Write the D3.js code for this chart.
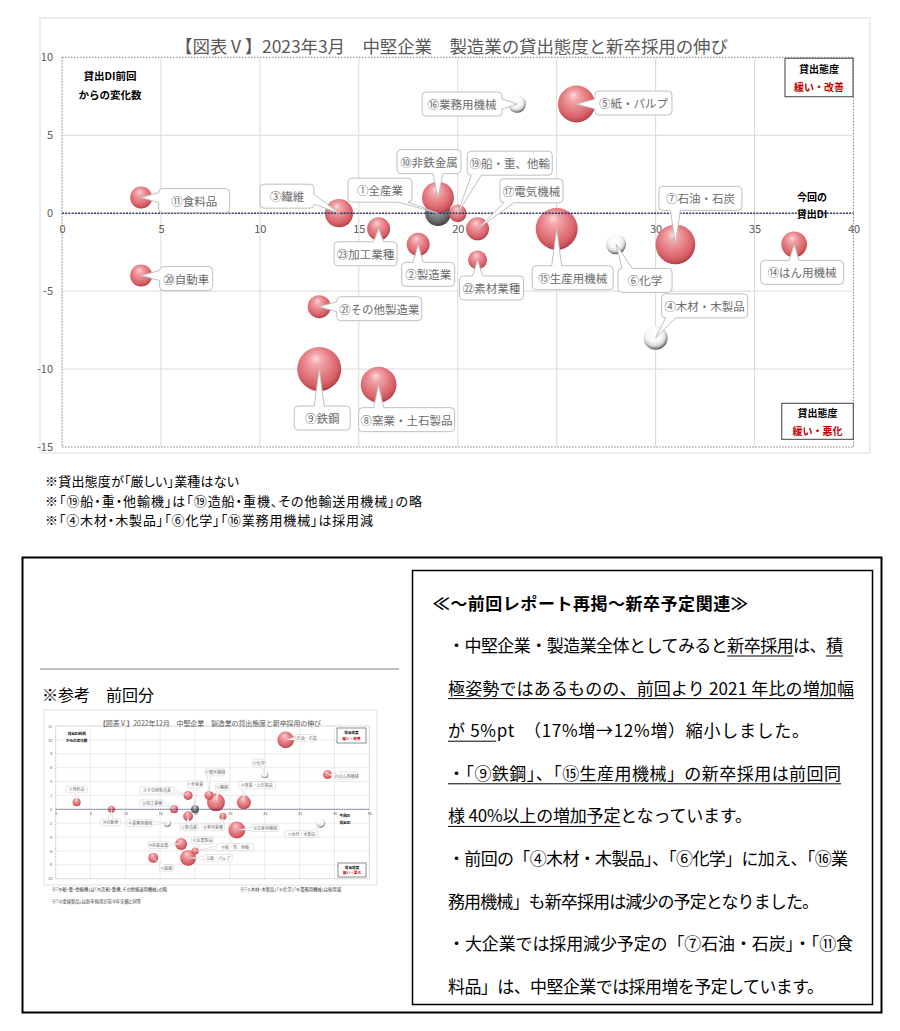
<!DOCTYPE html>
<html><head><meta charset="utf-8">
<script src="https://cdn.jsdelivr.net/npm/d3@7"></script>
<style>
body{margin:0;background:#fff}
svg text{font-family:"Noto Sans CJK JP","Noto Sans",sans-serif}
.palt{font-feature-settings:"palt" 1}
</style>
</head><body>
<svg id="c" width="900" height="1031"></svg>
<script>
// ===== DATA: current chart (2023年3月) =====
const title = "【図表Ⅴ】2023年3月　中堅企業　製造業の貸出態度と新卒採用の伸び";
const categories = ["①全産業","②製造業","③繊維","④木材・木製品","⑤紙・パルプ","⑥化学","⑦石油・石炭","⑧窯業・土石製品","⑨鉄鋼","⑩非鉄金属","⑪食料品","⑭はん用機械","⑮生産用機械","⑯業務用機械","⑰電気機械","⑲船・重、他輸","⑳自動車","㉑その他製造業","㉒素材業種","㉓加工業種"];
const lendingDI    = [19, 18, 14, 30, 26, 28, 31, 16, 13, 19, 4, 37, 25, 23, 21, 20, 4, 13, 21, 16];
const diChange     = [0, -2, 0, -8, 7, -2, -2, -11, -10, 1, 1, -2, -1, 7, -1, 0, -4, -6, -3, -1];
const hiringGrowth = [15, 12, 18, -13, 31, -9, 36, 29, 44, 23, 11, 15, 40, -7, 12, 7, 11, 12, 8, 12];
const xTicks = [0, 5, 10, 15, 20, 25, 30, 35, 40];
const yTicks = [10, 5, 0, -5, -10, -15];
const yNote = ["貸出DI前回", "からの変化数"];
const xNote = ["今回の", "貸出DI"];
const cornerTop = ["貸出態度", "緩い・改善"];
const cornerBottom = ["貸出態度", "緩い・悪化"];
const noteLines = ["※貸出態度が「厳しい」業種はない", "※「⑲船・重・他輸機」は「⑲造船・重機、その他輸送用機械」の略", "※「④木材・木製品」「⑥化学」「⑯業務用機械」は採用減"];

// ===== DATA: previous chart (2022年12月) =====
const prevTitle = "【図表Ⅴ】2022年12月　中堅企業　製造業の貸出態度と新卒採用の伸び";
const prevCategories = ["①全産業","②製造業","③繊維","④木材・木製品","⑤紙・パルプ","⑥化学","⑦石油・石炭","⑧窯業・土石製品","⑨鉄鋼","⑩非鉄金属","⑪食料品","⑫金属製品","⑭はん用機械","⑮生産用機械","⑯業務用機械","⑰電気機械","⑲船・重、他輸","⑳自動車","㉑その他製造業","㉒素材業種","㉓加工業種"];
const prevLendingDI    = [20, 19, 23, 38, 19, 30, 33, 27, 14, 18, 3, 20.5, 39, 26, 16, 22, 20, 8, 19, 24, 17];
const prevDiChange     = [0, -1, 1, -2, -7, 5, 10, 1, -7, -5, 1, -5.5, 5, -3, -2, 2, -6, 0, 2, -1, 0];
const prevHiringGrowth = [11, 17, 56, -14, 44, -8.5, 48, 34, 17, 25, 11, 0, 14, 50, -8.5, 14, 8.5, 8.5, 14, 8.5, 11];
const prevXTicks = [0, 5, 10, 15, 20, 25, 30, 35, 40, 45];
const prevYTicks = [12, 10, 8, 6, 4, 2, 0, -2, -4, -6, -8, -10];
const prevNotes = ["※「⑲船・重・他輸機」は「⑲造船・重機、その他輸送用機械」の略", "※「④木材・木製品」「⑥化学」「⑯業務用機械」は採用減", "※「⑫金属製品」は新卒採用が前々年実績と同等"];

// ===== TEXT =====
const refHeading = "※参考　前回分";
const boxTitle = "≪～前回レポート再掲～新卒予定関連≫";
const boxLines = [
  [["・中堅企業・製造業全体としてみると", 0], ["新卒採用", 1], ["は、", 0], ["積", 1]],
  [["極姿勢ではあるものの、前回より 2021 年比の増加幅", 1]],
  [["が 5%", 1], ["pt　（17%増→12%増）縮小しました。", 0]],
  [["・「⑨鉄鋼」、「⑮生産用機械」の新卒採用は前回同", 1]],
  [["様 40%以上の増加予定", 1], ["となっています。", 0]],
  [["・前回の「④木材・木製品」、「⑥化学」に加え、「⑯業", 0]],
  [["務用機械」も新卒採用は減少の予定となりました。", 0]],
  [["・大企業では採用減少予定の「⑦石油・石炭」・「⑪食", 0]],
  [["料品」は、中堅企業では採用増を予定しています。", 0]]
];

// ===== LAYOUT (label offsets in px from bubble centre: dx, dy, box width) =====
const mainLabels = [[-58,-23,64],[10,30,53],[-52,-17,54],[49,-32,86],[57,-1,77],[29,36,54],[25,-46,83],[28,35,96],[3,49,56],[-9,-36,64],[53,3,71],[8,28,83],[16,49,81],[-55,0,80],[54,-38,63],[52,-50,85],[45,3,53],[60,2,85],[14,28,64],[-13,25,63]];
const prevLabels = [[0,-25,15],[1,11,18],[6,-15,13],[-19,11,33],[30,0,28],[-6,-12,13],[19,-2,21],[13,-17,37],[13,10,14],[-23,1,20],[0,-13,21],[4,-7,22],[19,1,23],[28,-2,27],[-27,0,27],[6,-23,19],[40,-4,37],[-1,13,20],[-31,-5,34],[-10,11,23],[-22,-6,24]];

const svg = d3.select("#c");
const defs = svg.append("defs");
function radial(id, stops) {
  const gr = defs.append("radialGradient").attr("id", id)
    .attr("cx", "46%").attr("cy", "42%").attr("r", "60%").attr("fx", "42%").attr("fy", "24%");
  stops.forEach(([o, c]) => gr.append("stop").attr("offset", o).attr("stop-color", c));
}
radial("gRed", [["0%", "#fcdcde"], ["20%", "#f4a9ad"], ["50%", "#e7838a"], ["78%", "#d9636a"], ["92%", "#c24c54"], ["100%", "#9c3038"]]);
radial("gWhite", [["0%", "#ffffff"], ["55%", "#f7f7f7"], ["76%", "#dadada"], ["89%", "#909090"], ["100%", "#3a3a3a"]]);
radial("gGray", [["0%", "#cbcbcb"], ["40%", "#929292"], ["78%", "#646464"], ["100%", "#3b3b3b"]]);

const clamp = (v, a, b) => Math.max(a, Math.min(b, v));

function callout(g, tx, ty, bx, by, w, h, text, L) {
  const c = g.append("g");
  const x0 = bx - w / 2, y0 = by - h / 2, rx = L.labelRx, bw = L.wedge, e = L.labelSw;
  c.append("rect").attr("x", x0).attr("y", y0).attr("width", w).attr("height", h).attr("rx", rx)
    .attr("fill", "#fff").attr("stroke", L.labelStroke).attr("stroke-width", L.labelSw);
  const vx = tx - bx, vy = ty - by;
  if (Math.abs(vx) > w / 2 || Math.abs(vy) > h / 2) {
    let p1, p2, q1, q2;
    if (Math.abs(vx) / (w / 2) > Math.abs(vy) / (h / 2)) {
      const s = vx > 0 ? 1 : -1, sx = vx > 0 ? x0 + w : x0;
      const cy = clamp(ty, y0 + rx + bw / 2, y0 + h - rx - bw / 2);
      p1 = [sx, cy - bw / 2]; p2 = [sx, cy + bw / 2]; q1 = [sx - s * e, cy - bw / 2]; q2 = [sx - s * e, cy + bw / 2];
    } else {
      const s = vy > 0 ? 1 : -1, sy = vy > 0 ? y0 + h : y0;
      const cx = clamp(tx, x0 + rx + bw / 2, x0 + w - rx - bw / 2);
      p1 = [cx - bw / 2, sy]; p2 = [cx + bw / 2, sy]; q1 = [cx - bw / 2, sy - s * e]; q2 = [cx + bw / 2, sy - s * e];
    }
    c.append("path").attr("d", `M${q1}L${q2}L${p2}L${tx},${ty}L${p1}Z`).attr("fill", "#fff");
    c.append("path").attr("d", `M${p1}L${tx},${ty}L${p2}`).attr("fill", "none")
      .attr("stroke", L.labelStroke).attr("stroke-width", L.labelSw);
  }
  c.append("text").attr("x", bx).attr("y", by).attr("text-anchor", "middle").attr("dominant-baseline", "central")
    .attr("font-size", L.labelFs).attr("fill", "#6b6b6b").text(text);
}

function cornerBox(g, cx, cy, w, h, lines, L) {
  g.append("rect").attr("x", cx - w / 2).attr("y", cy - h / 2).attr("width", w).attr("height", h)
    .attr("fill", "#fff").attr("stroke", "#404040").attr("stroke-width", L.cornerSw);
  lines.forEach((t, i) => g.append("text").attr("x", cx).attr("y", cy + (i - 0.5) * L.noteGap)
    .attr("text-anchor", "middle").attr("dominant-baseline", "central").attr("font-size", L.noteFs)
    .attr("font-weight", "bold").attr("fill", i === 1 ? "#c00000" : "#000").text(t));
}

function drawChart(root, d, L) {
  const g = root.append("g");
  g.append("rect").attr("x", L.frame[0]).attr("y", L.frame[1]).attr("width", L.frame[2]).attr("height", L.frame[3])
    .attr("fill", "#fff").attr("stroke", "#d9d9d9").attr("stroke-width", L.frameSw);
  const x = d3.scaleLinear().domain(L.xDomain).range([L.left, L.right]);
  const y = d3.scaleLinear().domain(L.yDomain).range([L.bottom, L.top]);
  const r = d3.scaleSqrt().domain([0, L.rRef[0]]).range([0, L.rRef[1]]);

  g.append("text").attr("x", L.titleX).attr("y", L.titleY).attr("text-anchor", "middle").attr("dominant-baseline", "central")
    .attr("font-size", L.titleFs).attr("fill", "#595959").attr("textLength", L.titleW).attr("lengthAdjust", "spacing").text(d.title);

  g.append("g").selectAll("line").data(d.xTicks.filter(t => t > L.xDomain[0] && t < L.xDomain[1])).join("line")
    .attr("x1", t => x(t)).attr("x2", t => x(t)).attr("y1", L.top).attr("y2", L.bottom)
    .attr("stroke", "#d9d9d9").attr("stroke-width", L.gridSw);
  g.append("g").selectAll("line").data(d.yTicks.filter(t => t > L.yDomain[0] && t < L.yDomain[1] && t !== 0)).join("line")
    .attr("y1", t => y(t)).attr("y2", t => y(t)).attr("x1", L.left).attr("x2", L.right)
    .attr("stroke", "#d9d9d9").attr("stroke-width", L.gridSw);
  g.append("rect").attr("x", L.left).attr("y", L.top).attr("width", L.right - L.left).attr("height", L.bottom - L.top)
    .attr("fill", "none").attr("stroke", "#808080").attr("stroke-width", L.borderSw).attr("stroke-dasharray", L.borderDash);

  const ax = g.append("g").attr("transform", `translate(0,${y(0)})`)
    .call(d3.axisBottom(x).tickValues(d.xTicks).tickSize(0).tickPadding(L.xPad).tickFormat(v => String(v)));
  ax.select(".domain").remove();
  ax.attr("font-family", null).attr("font-size", null);
  ax.selectAll("text").attr("fill", "#595959").attr("font-size", L.tickFs);
  const ay = g.append("g").attr("transform", `translate(${L.left},0)`)
    .call(d3.axisLeft(y).tickValues(d.yTicks).tickSize(0).tickPadding(L.yPad).tickFormat(v => String(v)));
  ay.select(".domain").remove();
  ay.attr("font-family", null).attr("font-size", null);
  ay.selectAll("text").attr("fill", "#595959").attr("font-size", L.tickFs);

  const idx = d.cats.map((c, i) => i);
  g.append("g").selectAll("circle").data(idx).join("circle")
    .attr("cx", i => x(d.xs[i])).attr("cy", i => y(d.ys[i])).attr("r", i => r(Math.abs(d.sizes[i])))
    .attr("fill", i => d.cats[i].startsWith("①") ? "url(#gGray)" : d.sizes[i] < 0 ? "url(#gWhite)" : "url(#gRed)");

  g.append("line").attr("x1", L.left).attr("x2", L.right).attr("y1", y(0)).attr("y2", y(0))
    .attr("stroke", "#2a3760").attr("stroke-width", L.zeroSw).attr("stroke-dasharray", L.zeroDash);

  idx.forEach(i => {
    const lb = d.labels[i], px = x(d.xs[i]), py = y(d.ys[i]);
    callout(g, px, py, px + lb[0], py + lb[1], lb[2], L.labelH, d.cats[i], L);
  });

  d.yNote.forEach((t, i) => g.append("text").attr("x", L.yNoteX).attr("y", L.yNoteY + i * L.noteGapY)
    .attr("text-anchor", "middle").attr("dominant-baseline", "central").attr("font-size", L.noteFs2)
    .attr("font-weight", "bold").attr("fill", "#000").text(t));
  d.xNote.forEach((t, i) => g.append("text").attr("x", L.xNoteX).attr("y", L.xNoteY + i * L.noteGapX)
    .attr("text-anchor", "middle").attr("dominant-baseline", "central").attr("font-size", L.noteFs)
    .attr("font-weight", "bold").attr("fill", "#000").text(t));
  cornerBox(g, L.cTop[0], L.cTop[1], L.cTop[2], L.cTop[3], d.cornerTop, L);
  cornerBox(g, L.cBot[0], L.cBot[1], L.cBot[2], L.cBot[3], d.cornerBottom, L);
  return g;
}

// ===== MAIN CHART =====
drawChart(svg, {title, cats: categories, xs: lendingDI, ys: diChange, sizes: hiringGrowth, xTicks, yTicks,
  labels: mainLabels, yNote, xNote, cornerTop, cornerBottom}, {
  frame: [40, 18, 830, 435], frameSw: 1,
  left: 62, right: 853.5, top: 57.3, bottom: 447, xDomain: [0, 40], yDomain: [-15, 10],
  rRef: [44, 22], titleX: 451.5, titleY: 45.5, titleFs: 17.5, titleW: 553,
  gridSw: 1, borderSw: 1, borderDash: "1.5,1.5", zeroSw: 1.6, zeroDash: "2,1.2",
  xPad: 12, yPad: 9, tickFs: 11,
  labelH: 24, labelRx: 4, labelSw: 1, labelStroke: "#bfbfbf", labelFs: 11.5, wedge: 10,
  yNoteX: 110, yNoteY: 75, noteGapY: 19, noteFs2: 10.5,
  xNoteX: 812, xNoteY: 196.7, noteGapX: 16.6, noteFs: 10, noteGap: 17.5,
  cTop: [819, 77.5, 68, 38.5], cBot: [817.5, 421.3, 71.5, 36], cornerSw: 1
});

// notes under chart
noteLines.forEach((t, i) => svg.append("text").attr("class", "palt").attr("x", 45).attr("y", 480.7 + i * 19.3)
  .attr("dominant-baseline", "central").attr("font-size", 13).attr("fill", "#000")
  .attr("textLength", [194, 377, 328][i]).attr("lengthAdjust", "spacing").text(t));

// ===== BOTTOM PANEL =====
svg.append("rect").attr("x", 22.5).attr("y", 557.5).attr("width", 859).attr("height", 455)
  .attr("fill", "none").attr("stroke", "#000").attr("stroke-width", 2);
svg.append("rect").attr("x", 412.5).attr("y", 570.5).attr("width", 460).attr("height", 434)
  .attr("fill", "none").attr("stroke", "#000").attr("stroke-width", 1.5);
svg.append("line").attr("x1", 40).attr("x2", 399).attr("y1", 669).attr("y2", 669).attr("stroke", "#7f7f7f").attr("stroke-width", 1);
svg.append("text").attr("x", 42).attr("y", 694).attr("dominant-baseline", "central").attr("font-size", 16).attr("fill", "#000").text(refHeading);

// previous chart thumbnail
drawChart(svg, {title: prevTitle, cats: prevCategories, xs: prevLendingDI, ys: prevDiChange, sizes: prevHiringGrowth,
  xTicks: prevXTicks, yTicks: prevYTicks, labels: prevLabels, yNote, xNote, cornerTop, cornerBottom}, {
  frame: [44, 710, 333, 175], frameSw: 0.8,
  left: 55.7, right: 369.3, top: 726, bottom: 878.7, xDomain: [0, 45], yDomain: [-10, 12],
  rRef: [50, 8.5], titleX: 210, titleY: 722.5, titleFs: 7, titleW: 222,
  gridSw: 0.5, borderSw: 0.6, borderDash: "0.8,0.8", zeroSw: 0.9, zeroDash: "1,0.6",
  xPad: 3.5, yPad: 3.5, tickFs: 3.6,
  labelH: 6.8, labelRx: 1.2, labelSw: 0.4, labelStroke: "#bfbfbf", labelFs: 4, wedge: 3,
  yNoteX: 76.7, yNoteY: 733, noteGapY: 7.7, noteFs2: 3.6,
  xNoteX: 345, xNoteY: 815, noteGapX: 7.7, noteFs: 3.6, noteGap: 5.6,
  cTop: [351.5, 735.5, 29, 15], cBot: [352, 870, 28, 14], cornerSw: 0.6
});
[[51.7, 889], [240, 889], [51.7, 900.7]].forEach((p, i) => svg.append("text").attr("class", "palt").attr("x", p[0]).attr("y", p[1])
  .attr("dominant-baseline", "central").attr("font-size", 4.3).attr("fill", "#333").text(prevNotes[i]));

// right text box
svg.append("text").attr("x", 432.7).attr("y", 602.5).attr("dominant-baseline", "central").attr("font-size", 17)
  .attr("font-weight", "bold").attr("fill", "#000").attr("textLength", 315).attr("lengthAdjust", "spacing").text(boxTitle);

const lineW = [395, 406, 361, 393, 304, 400, 371, 405, 376];
boxLines.forEach((segs, li) => {
  const cy = 644 + li * 42.6;
  const t = svg.append("text").attr("x", 448).attr("y", cy).attr("dominant-baseline", "central")
    .attr("font-size", 17).attr("fill", "#000").attr("textLength", lineW[li]).attr("lengthAdjust", "spacing");
  segs.forEach(s => t.append("tspan").text(s[0]));
  const node = t.node();
  let pos = 0;
  segs.forEach(s => {
    const n = s[0].length;
    if (s[1]) {
      const xa = node.getStartPositionOfChar(pos).x, xb = node.getEndPositionOfChar(pos + n - 1).x;
      svg.append("line").attr("x1", xa).attr("x2", xb).attr("y1", cy + 12).attr("y2", cy + 12)
        .attr("stroke", "#000").attr("stroke-width", 1);
    }
    pos += n;
  });
});
</script>
</body></html>
